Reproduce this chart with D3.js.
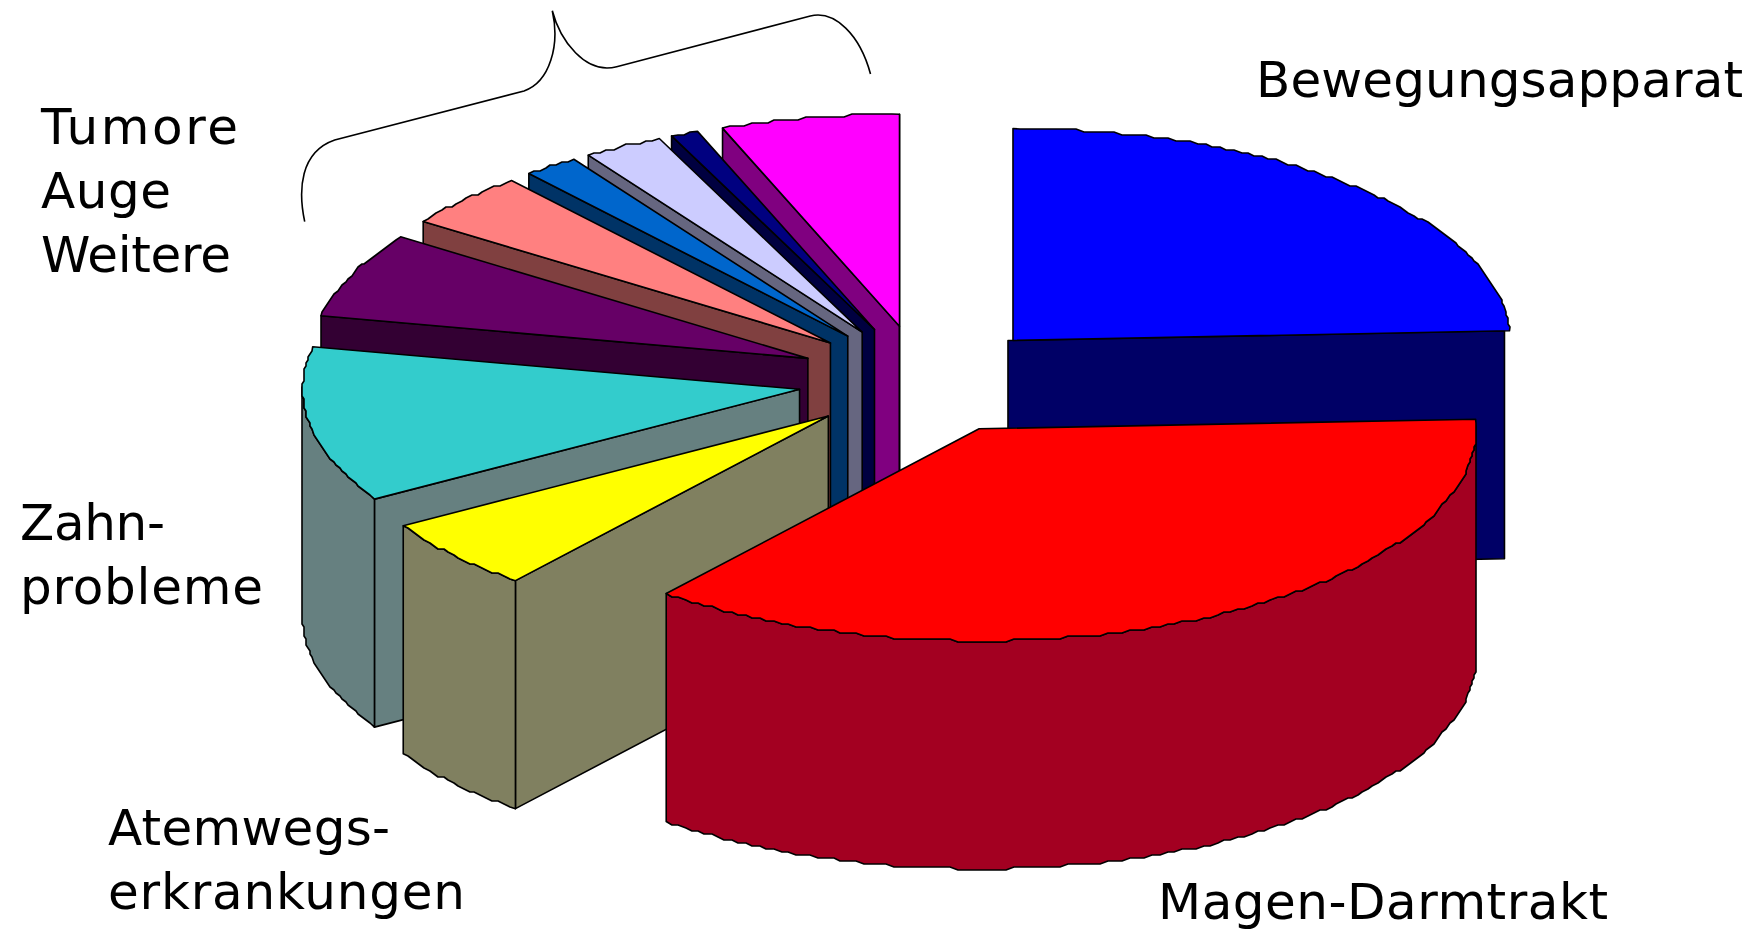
<!DOCTYPE html>
<html><head><meta charset="utf-8">
<script src="https://cdn.jsdelivr.net/npm/d3@7/dist/d3.min.js"></script>
<style>html,body{margin:0;padding:0;background:#fff}svg{display:block}</style>
</head><body><svg id="c" width="1755" height="930"></svg>
<script>
// --- data (share of cases, percent, clockwise from 12 o'clock) ---
const categories = ["Bewegungsapparat","Magen-Darmtrakt","Atemwegserkrankungen","Zahnprobleme","Weitere A","Tumore","Weitere B","Auge","Weitere C","Weitere D"];
const values = [24.3,36.6,5.5,11.9,6.5,4.2,1.8,2.6,0.9,5.8];
const exploded = [0.265,0.255,0.25,0.25,0.25,0.25,0.25,0.25,0.25,0.25];
const topColors = ["#0000ff","#ff0000","#ffff00","#33cccc","#660066","#ff8080","#0066cc","#ccccff","#000080","#ff00ff"];
const sideColors = ["#000066","#a30021","#808060","#668080","#330033","#804040","#003366","#666680","#000040","#800080"];
const drawOrder = [0,9,8,7,6,5,4,3,2,1];
const labelLines = [
  ["Bewegungsapparat"],["Magen-Darmtrakt"],["Atemwegs-","erkrankungen"],["Zahn-","probleme"],["Tumore","Auge","Weitere"]
];

const svg = d3.select("#c");
const cx=922, cy=380, Rx=497, Ry=212, depth=228;
const top_ = d3.scaleOrdinal(categories,topColors), side = d3.scaleOrdinal(categories,sideColors);
const boom = d3.scaleOrdinal(categories,exploded);
const pie = d3.pie().sort(null).value(d=>d.v).startAngle(0).endAngle(2*Math.PI);
const arcs = pie(categories.map((c,i)=>({c,v:values[i]})));
const line = d3.line();
const q=(v,s)=>Math.round(v/s)*s;

function apex(a){const m=(a.startAngle+a.endAngle)/2, e=boom(a.data.c);
  return [cx+e*Rx*Math.sin(m), cy-0.258*Ry*Math.cos(m)];}
function rim(a,t){const p=apex(a);return [p[0]+Rx*Math.sin(t),p[1]-Ry*Math.cos(t)];}
function rimPts(a){ // the reference's outline is a coarse staircase; shared by top and wall
  const t0=a.startAngle,t1=a.endAngle,n=Math.max(2,Math.ceil((t1-t0)/0.016)),pts=[];
  for(let i=0;i<=n;i++){const t=t0+(t1-t0)*i/n;const p=rim(a,t);
    const o=(i===0||i===n)?p:[q(p[0],2),q(p[1],3)];o.t=t;pts.push(o);}
  return pts;
}
const g=svg.append("g").attr("stroke","#000").attr("stroke-width",1.6).attr("stroke-linejoin","round");
drawOrder.map(i=>arcs[i]).forEach(a=>{
  const name=a.data.c, A=apex(a), pts=rimPts(a);
  const down=p=>[p[0],p[1]+depth];
  // visible cut faces
  [[a.startAngle,Math.sin(a.startAngle)<0],[a.endAngle,Math.sin(a.endAngle)>0]].forEach(([t,vis])=>{
    if(!vis||t===0) return;
    const R=rim(a,t);
    const off=(name==="Bewegungsapparat")?-5:0;
    const s=[[A[0]+off,A[1]],[R[0]+off,R[1]]];
    g.append("path").attr("d",line([s[0],s[1],down(s[1]),down(s[0])])+"Z").attr("fill",side(name));
  });
  // outer wall: same rim points as the top, front half only
  const up=pts.filter(p=>p.t>=Math.PI/2-0.02&&p.t<=3*Math.PI/2+0.02);
  if(up.length>1)
    g.append("path").attr("d",line(up.concat(up.map(down).reverse()))+"Z").attr("fill",side(name));
  // top
  g.append("path").attr("d",line([A].concat(pts))+"Z").attr("fill",top_(name));
});
// brace annotation
svg.append("path").attr("fill","none").attr("stroke","#000").attr("stroke-width",1.6)
 .attr("d","M304.7,221.7C298,190 300,152 334.7,140L524,91C550,82 560,45 552.3,10.7C560,40 585,75 616.7,66.7L810.3,16C835,10 860,35 870.5,74");
// labels
const labelX=[1256,1158,108,20,41], labelY=[97,919,845,540,144];
const labelW=[[487],[450],[282,357],[145,243],[197,130,190]];
const t=svg.append("g").attr("font-family","'DejaVu Sans'").attr("font-size",50).attr("fill","#000");
labelLines.forEach((ls,i)=>ls.forEach((s,j)=>t.append("text").attr("x",labelX[i]).attr("y",labelY[i]+j*64)
  .attr("textLength",labelW[i][j]).attr("lengthAdjust","spacing").text(s)));
</script></body></html>
